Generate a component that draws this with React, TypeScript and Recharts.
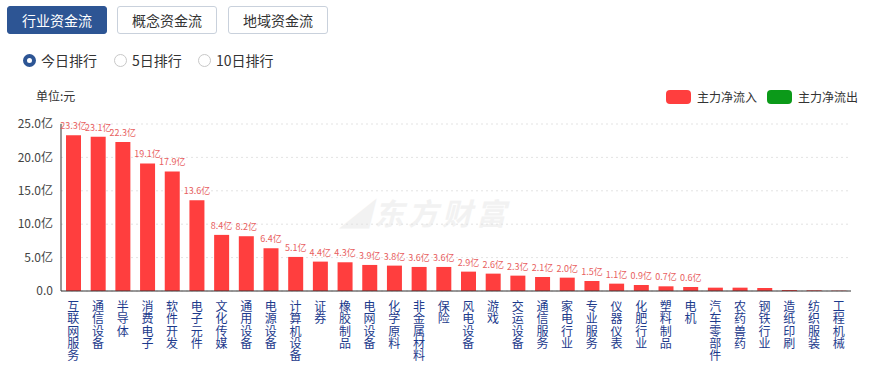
import React from "react"
import { BarChart, Bar, XAxis, YAxis, CartesianGrid, LabelList } from "recharts"

const categories = [
  "互联网服务", "通信设备", "半导体", "消费电子", "软件开发", "电子元件", "文化传媒", "通用设备",
  "电源设备", "计算机设备", "证券", "橡胶制品", "电网设备", "化学原料", "非金属材料", "保险",
  "风电设备", "游戏", "交运设备", "通信服务", "家电行业", "专业服务", "仪器仪表", "化肥行业",
  "塑料制品", "电机", "汽车零部件", "农药兽药", "钢铁行业", "造纸印刷", "纺织服装", "工程机械",
]

// 主力净流入 (亿元)
const inflow = [
  23.3, 23.1, 22.3, 19.1, 17.9, 13.6, 8.4, 8.2, 6.4, 5.1, 4.4, 4.3, 3.9, 3.8, 3.6, 3.6,
  2.9, 2.6, 2.3, 2.1, 2.0, 1.5, 1.1, 0.9, 0.7, 0.6, 0.5, 0.5, 0.45, 0.15, 0.1, 0.05,
]

// 主力净流出 (none today)
const outflow = categories.map(() => 0)

const yTicks = [0, 5, 10, 15, 20, 25]

const labelCount = 26

const RED = "#ff3e3e"
const GREEN = "#0b9a19"
const FONT = "'Noto Sans CJK SC', 'Noto Sans', sans-serif"

const data = categories.map((name, i) => ({ name, inflow: inflow[i], outflow: outflow[i] }))

function VerticalTick(props: any) {
  const { x, y, payload } = props
  const chars = String(payload.value).split("")
  return (
    <g>
      {chars.map((c, i) => (
        <text key={i} x={x} y={y + 12 + i * 12.3} textAnchor="middle" fontSize={12} fill="#1c3a8c" fontFamily={FONT}>
          {c}
        </text>
      ))}
    </g>
  )
}

function ValueLabel(props: any) {
  const { x, y, width, value, index } = props
  if (index >= labelCount) return null
  return (
    <text x={x + width / 2} y={y - 6} textAnchor="middle" fontSize={9} fill="#e86060" fontFamily={FONT}>
      {Number(value).toFixed(1)}亿
    </text>
  )
}

const btn = (active: boolean, left: number): React.CSSProperties => ({
  position: "absolute",
  left,
  top: 6,
  width: 100,
  height: 28,
  boxSizing: "border-box",
  borderRadius: 3,
  border: active ? "1px solid #2d5594" : "1px solid #c9d1dc",
  background: active ? "#2d5594" : "#fff",
  color: active ? "#fff" : "#333",
  fontSize: 14,
  lineHeight: "26px",
  textAlign: "center",
})

function Radio({ left, label, checked }: { left: number; label: string; checked: boolean }) {
  return (
    <div style={{ position: "absolute", left, top: 50, height: 20, display: "flex", alignItems: "center", fontSize: 14, color: "#333" }}>
      <span
        style={{
          width: 13,
          height: 13,
          boxSizing: "border-box",
          borderRadius: "50%",
          border: checked ? "4px solid #2d5594" : "1px solid #c8c8c8",
          background: "#fff",
          marginRight: 5,
        }}
      />
      {label}
    </div>
  )
}

export default function App() {
  return (
    <div style={{ position: "absolute", left: 0, top: 0, width: 876, height: 366, background: "#fff", fontFamily: FONT, overflow: "hidden" }}>
      <div style={btn(true, 7)}>行业资金流</div>
      <div style={btn(false, 117)}>概念资金流</div>
      <div style={btn(false, 228)}>地域资金流</div>

      <Radio left={23} label="今日排行" checked />
      <Radio left={114} label="5日排行" checked={false} />
      <Radio left={198} label="10日排行" checked={false} />

      <div style={{ position: "absolute", left: 36, top: 87, fontSize: 12, color: "#333" }}>单位:元</div>

      <div style={{ position: "absolute", left: 666, top: 88, display: "flex", alignItems: "center", fontSize: 12, color: "#333" }}>
        <span style={{ width: 25, height: 14, borderRadius: 4, background: RED, marginRight: 6 }} />
        主力净流入
        <span style={{ width: 25, height: 14, borderRadius: 4, background: GREEN, marginLeft: 10, marginRight: 6 }} />
        主力净流出
      </div>

      <div
        style={{
          position: "absolute",
          left: 340,
          top: 190,
          fontSize: 30,
          fontWeight: 700,
          color: "#f2f2f2",
          letterSpacing: 4,
          fontStyle: "italic",
        }}
      >
        ◢东方财富
      </div>

      <div style={{ position: "absolute", left: 0, top: 0 }}>
        <BarChart width={876} height={366} data={data} margin={{ top: 124, right: 25, bottom: 0, left: 0 }} barSize={15}>
          <CartesianGrid vertical={false} stroke="#e3e3e3" strokeDasharray="2 3" />
          <XAxis
            dataKey="name"
            interval={0}
            height={75}
            tickLine={false}
            axisLine={{ stroke: "#333" }}
            tick={<VerticalTick />}
          />
          <YAxis
            width={61}
            domain={[0, 25]}
            ticks={yTicks}
            tickLine={false}
            axisLine={{ stroke: "#333" }}
            tick={{ fontSize: 12, fill: "#444", fontFamily: FONT }}
            tickFormatter={(v: number) => (v === 0 ? "0.0" : v.toFixed(1) + "亿")}
          />
          <Bar dataKey="inflow" stackId="a" fill={RED} isAnimationActive={false}>
            <LabelList dataKey="inflow" content={<ValueLabel />} />
          </Bar>
          <Bar dataKey="outflow" stackId="a" fill={GREEN} isAnimationActive={false} />
        </BarChart>
      </div>
    </div>
  )
}
